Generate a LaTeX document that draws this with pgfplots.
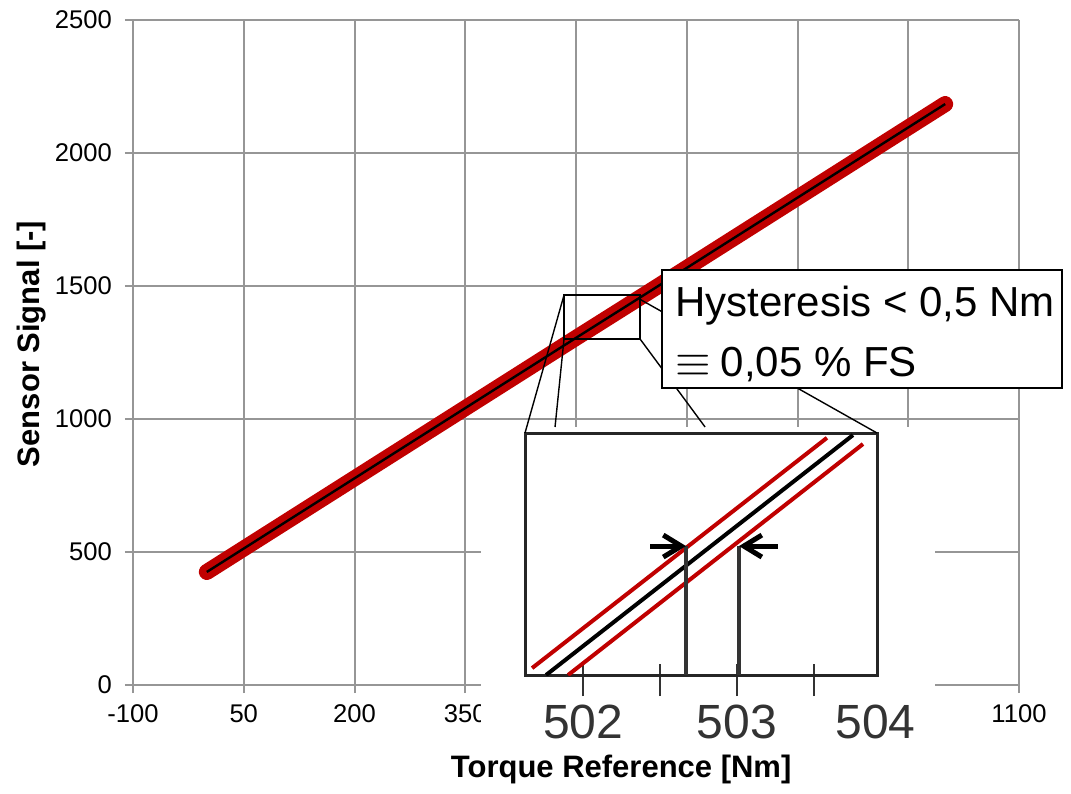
\documentclass[border=0pt]{standalone}
\usepackage{fontspec}
\setmainfont{Liberation Sans}
\usepackage{graphicx}
\usepackage{pgfplots}
\pgfplotsset{compat=1.18}
\usetikzlibrary{arrows.meta}
\definecolor{dred}{HTML}{C00000}
\definecolor{gridgray}{HTML}{969696}
\definecolor{dgray}{HTML}{333333}

\begin{document}
\begin{tikzpicture}
\path[use as bounding box] (-66.5pt,-54pt) rectangle (469pt,342.5pt);
% main chart
\begin{axis}[
    at={(0pt,0pt)}, anchor=south west,
    scale only axis, width=443pt, height=332.5pt,
    xmin=-100, xmax=1100, ymin=0, ymax=2500,
    xtick={-100,50,200,350,500,650,800,950,1100},
    xticklabels={-100,50,200,350,,,,,1100},
    ytick={0,500,1000,1500,2000,2500},
    yticklabels={0,500,1000,1500,2000,2500},
    axis lines*=left,
    axis line style={gridgray, line width=1pt},
    grid=major, major grid style={gridgray, line width=1pt},
    tick align=outside, major tick length=4pt,
    tick style={gridgray, line width=1pt},
    tick label style={font=\fontsize{12.8}{15}\selectfont},
    yticklabel style={xshift=-3pt},
    xticklabel style={yshift=-2.5pt},
    xlabel={\textbf{Torque Reference [Nm]}},
    ylabel={\textbf{Sensor Signal [-]}},
    label style={font=\fontsize{15.5}{18}\selectfont},
    xlabel style={at={(axis description cs:0.551,0)}, anchor=base, yshift=-46pt},
    ylabel style={at={(axis description cs:-0.105,0.513)}, anchor=base},
    clip=false,
]
\addplot[dred, line width=8pt, line cap=round] coordinates {
    (0,425) (100,601) (200,777) (300,953) (400,1129) (500,1305)
    (600,1480) (700,1656) (800,1832) (900,2008) (1000,2184)};
\addplot[black, line width=1.2pt] coordinates {
    (0,425) (100,601) (200,777) (300,953) (400,1129) (500,1305)
    (600,1480) (700,1656) (800,1832) (900,2008) (1000,2184)};
% zoom window
\draw[black, line width=1pt] (axis cs:483.8,1301) rectangle (axis cs:586.7,1466);
\coordinate (rTL) at (axis cs:483.8,1466);
\coordinate (rBL) at (axis cs:483.8,1301);
\coordinate (rBR) at (axis cs:586.7,1301);
\coordinate (rTR) at (axis cs:586.7,1450);
\coordinate (iBL) at (axis cs:471.6,970);
\coordinate (iBR) at (axis cs:674.8,970);
\end{axis}
% white background of the magnified picture
\fill[white] (174pt,-32pt) rectangle (401pt,129pt);
% inset
\begin{axis}[
    at={(196pt,5pt)}, anchor=south west,
    scale only axis, width=176pt, height=121pt,
    xmin=501.623, xmax=503.909, ymin=1313.08, ymax=1316.59,
    axis background/.style={fill=white},
    axis line style={black!85, line width=1.5pt},
    ytick=\empty,
    xtick pos=bottom,
    xtick={502,502.5,503,503.5}, xticklabels={502,,503,},
    extra x ticks={503.9}, extra x tick labels={504},
    extra x tick style={xtick style={draw opacity=0}},
    major tick length=16pt, tick align=center,
    xtick style={dgray, line width=1pt, yshift=-2.5pt},
    xticklabel style={font=\fontsize{24}{28}\selectfont, text=dgray,
        anchor=north, inner sep=0pt, yshift=-7pt},
]
\addplot[dred, line width=2pt] coordinates {(501.669,1313.18) (503.584,1316.52)};
\addplot[black, line width=2pt] coordinates {(501.760,1313.08) (503.753,1316.56)};
\addplot[dred, line width=2pt] coordinates {(501.903,1313.08) (503.818,1316.43)};
\addplot[dgray, line width=2pt] coordinates {(502.669,1313.08) (502.669,1314.95)};
\addplot[dgray, line width=2pt] coordinates {(503.013,1313.08) (503.013,1314.95)};
\addplot[black, line width=2.5pt, -{Straight Barb[length=9pt 0, width=11pt 0]}]
    coordinates {(502.435,1314.95) (502.669,1314.95)};
\addplot[black, line width=2.5pt, -{Straight Barb[length=9pt 0, width=11pt 0]}]
    coordinates {(503.266,1314.95) (503.013,1314.95)};
\coordinate (iTL) at (rel axis cs:0,1);
\coordinate (iTR) at (rel axis cs:1,1);
\end{axis}
% magnifier lines
\draw[black, line width=0.7pt] (rTL) -- (iTL);
\draw[black, line width=0.7pt] (rBL) -- (iBL);
\draw[black, line width=0.7pt] (rBR) -- (iBR);
\draw[black, line width=0.7pt] (rTR) -- (iTR);
% callout
\draw[black, line width=1pt, fill=white] (264.5pt,148.5pt) rectangle (464.5pt,207.5pt);
\node[anchor=base west, inner sep=0pt, font=\fontsize{21}{25}\selectfont]
    at (271pt,184pt) {Hysteresis < 0,5 Nm};
\node[anchor=base west, inner sep=0pt, font=\fontsize{21}{25}\selectfont]
    at (271pt,154pt) {\scalebox{1.1}{$\equiv$}\hspace{5pt}0,05 \% FS};
\end{tikzpicture}
\end{document}
